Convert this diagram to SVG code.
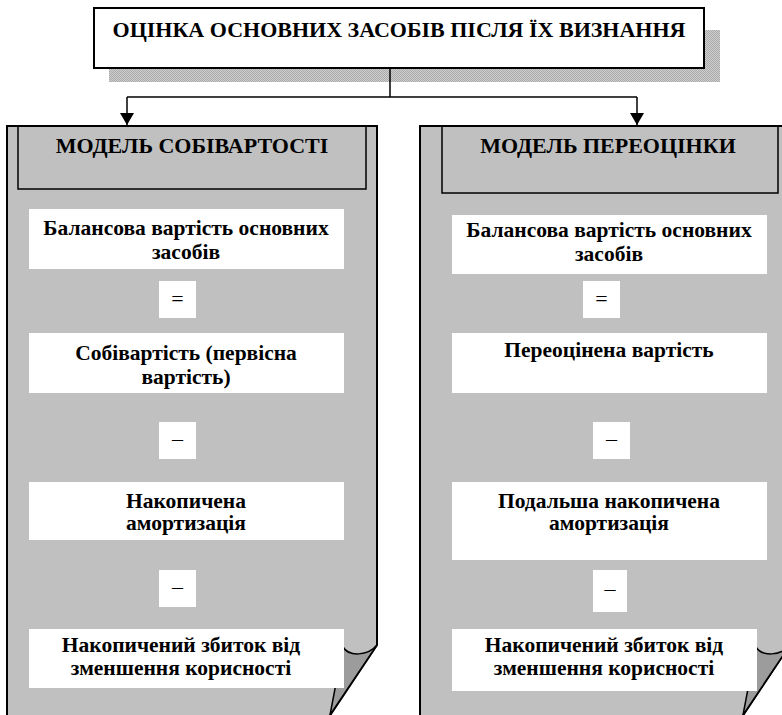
<svg xmlns="http://www.w3.org/2000/svg" width="782" height="715" viewBox="0 0 782 715">
<style>
.t{font-family:"Liberation Serif","Times New Roman",serif;font-weight:bold;font-size:21.5px;fill:#000;text-anchor:middle}
.h{font-size:22px}
.op{font-family:"Liberation Serif","Times New Roman",serif;font-size:22px;fill:#000;text-anchor:middle}
.wb{fill:#fff;stroke:none}
.panel{fill:#c0c0c0;stroke:none}
.edge{fill:none;stroke:#000;stroke-width:2}
.fold{fill:#9c9c9c;stroke:#000;stroke-width:1.5;stroke-linejoin:round}
.hdr{fill:none;stroke:#000;stroke-width:1.5}
.conn{fill:none;stroke:#000;stroke-width:1.5}
</style>
<defs>
<pattern id="dots" width="2" height="2" patternUnits="userSpaceOnUse">
<rect width="2" height="2" fill="#d0d0d0"/>
<rect width="1" height="1" fill="#a8a8a8"/>
<rect x="1" y="1" width="1" height="1" fill="#a8a8a8"/>
</pattern>
<marker id="arr" viewBox="0 0 12 14" refX="12" refY="7" markerWidth="12" markerHeight="14" markerUnits="userSpaceOnUse" orient="auto">
<path d="M0,0 L12,7 L0,14 Z" fill="#000"/>
</marker>
</defs>

<g id="title">
<rect x="109" y="30" width="611" height="52" fill="url(#dots)"/>
<rect x="94" y="8" width="610" height="60" fill="#fff" stroke="#000" stroke-width="2"/>
<text class="t h" x="399" y="37">ОЦІНКА ОСНОВНИХ ЗАСОБІВ ПІСЛЯ ЇХ ВИЗНАННЯ</text>
</g>

<g id="connectors">
<path class="conn" d="M390,68 V97"/>
<path class="conn" d="M127,97 H637"/>
<path class="conn" d="M127,97 V125" marker-end="url(#arr)"/>
<path class="conn" d="M637,97 V125" marker-end="url(#arr)"/>
</g>

<g id="cost-model">
<path class="panel" d="M7,126 H377 V645 L327,720 H7 Z"/>
<path class="edge" d="M7,720 V126 H377 V645 L327,720"/>
<path class="fold" d="M343,647 C349,657 368,656 377,645 L330,715 Z"/>
<rect class="hdr" x="18" y="126" width="348" height="63"/>
<text class="t h" x="192" y="153">МОДЕЛЬ СОБІВАРТОСТІ</text>
<g id="c-balance"><rect class="wb" x="29" y="209" width="315" height="60"/>
<text class="t" x="186" y="235">Балансова вартість основних</text>
<text class="t" x="186" y="259">засобів</text></g>
<g id="c-eq"><rect class="wb" x="159" y="281" width="37" height="37"/>
<text class="op" x="177.5" y="305.5">=</text></g>
<g id="c-cost"><rect class="wb" x="29" y="333" width="315" height="60"/>
<text class="t" x="186" y="360">Собівартість (первісна</text>
<text class="t" x="186" y="384">вартість)</text></g>
<g id="c-minus1"><rect class="wb" x="159" y="422" width="37" height="37"/>
<text class="op" x="177.5" y="446">–</text></g>
<g id="c-dep"><rect class="wb" x="29" y="482" width="315" height="58"/>
<text class="t" x="186" y="508">Накопичена</text>
<text class="t" x="186" y="530">амортизація</text></g>
<g id="c-minus2"><rect class="wb" x="159" y="570" width="37" height="37"/>
<text class="op" x="177.5" y="594">–</text></g>
<g id="c-imp"><rect class="wb" x="29" y="629" width="315" height="59"/>
<text class="t" x="181" y="652">Накопичений збиток від</text>
<text class="t" x="181" y="675">зменшення корисності</text></g>
</g>

<g id="revaluation-model">
<path class="panel" d="M420,126 H790 V645 L740,720 H420 Z"/>
<path class="edge" d="M420,720 V126 H790 V645 L740,720"/>
<path class="fold" d="M756,647 C762,657 781,656 790,645 L743,715 Z"/>
<rect class="hdr" x="442" y="126" width="336" height="67"/>
<text class="t h" x="608" y="153">МОДЕЛЬ ПЕРЕОЦІНКИ</text>
<g id="r-balance"><rect class="wb" x="452" y="215" width="315" height="59"/>
<text class="t" x="609" y="237">Балансова вартість основних</text>
<text class="t" x="609" y="261">засобів</text></g>
<g id="r-eq"><rect class="wb" x="583" y="281" width="37" height="37"/>
<text class="op" x="601.5" y="305.5">=</text></g>
<g id="r-reval"><rect class="wb" x="452" y="333" width="315" height="60"/>
<text class="t" x="609" y="357">Переоцінена вартість</text></g>
<g id="r-minus1"><rect class="wb" x="593" y="422" width="37" height="37"/>
<text class="op" x="611.5" y="446">–</text></g>
<g id="r-dep"><rect class="wb" x="452" y="482" width="315" height="78"/>
<text class="t" x="609" y="508">Подальша накопичена</text>
<text class="t" x="609" y="530">амортизація</text></g>
<g id="r-minus2"><rect class="wb" x="593" y="570" width="34" height="42"/>
<text class="op" x="610" y="596">–</text></g>
<g id="r-imp"><rect class="wb" x="452" y="629" width="305" height="62"/>
<text class="t" x="604" y="652">Накопичений збиток від</text>
<text class="t" x="604" y="675">зменшення корисності</text></g>
</g>
</svg>
